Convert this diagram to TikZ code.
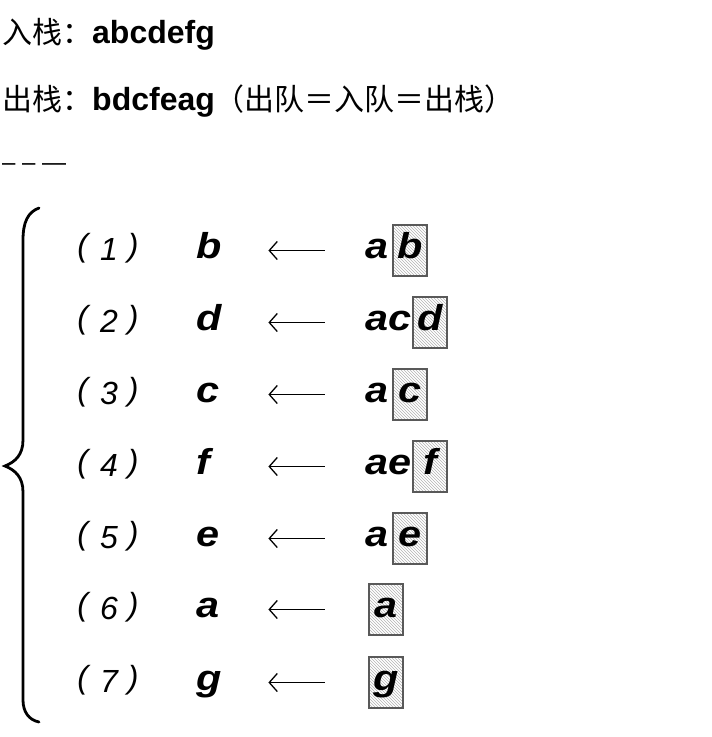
\documentclass[tikz,border=0pt]{standalone}
\usepackage{fontspec}
\setmainfont{Liberation Sans}
\newfontfamily\cjk{Noto Sans CJK SC}
\newfontfamily\letterfont[FakeStretch=1.15]{Liberation Sans}
\usepackage{tikz}
\usetikzlibrary{
    arrows.meta,
    positioning,
    patterns
}

\begin{document}
\begin{tikzpicture}[
    x=1pt, y=-1pt,
    letter/.style={
        anchor=base west,
        inner xsep=0pt,
        inner ysep=0pt,
        text height=25pt,
        text depth=10pt,
        font=\letterfont\bfseries\itshape\fontsize{36}{40}\selectfont
    },
    popped/.style={letter, text width=26pt, align=left},
    stacktop/.style={
        letter,
        draw=gray!70!black,
        line width=1.2pt,
        pattern=north west lines,
        pattern color=gray!60,
        inner xsep=3pt,
        inner ysep=8pt,
        minimum width=34pt,
        anchor=west
    },
    step label/.style={anchor=base, font=\itshape\fontsize{32}{36}\selectfont},
    arrow/.style={
        {Straight Barb[length=8pt, width=18pt]}-,
        line width=1.3pt,
        shorten <=46pt,
        shorten >=40pt
    }
]
\useasboundingbox (0,0) rectangle (712,737);

% Push and pop order
\node[anchor=base west, inner sep=0pt] (push) at (2, 43)
    {{\cjk\fontsize{30}{34}\selectfont 入栈：}{\fontsize{32}{36}\selectfont\bfseries abcdefg}};
\node[anchor=base west, inner sep=0pt] (pop) at (2, 110)
    {{\cjk\fontsize{30}{34}\selectfont 出栈：}{\fontsize{32}{36}\selectfont\bfseries bdcfeag}{\cjk\fontsize{30}{34}\selectfont （出队＝入队＝出栈）}};
\node[anchor=base west, inner sep=0pt, font=\fontsize{24}{28}\selectfont] (sep) at (2, 170) {– – —};

% Brace
\draw[line width=2.8pt, line cap=round]
    (39, 208) .. controls (28, 212) and (23, 222) .. (23, 240) -- (23, 440)
    .. controls (23, 455) and (15, 462) .. (5, 466)
    .. controls (15, 470) and (23, 477) .. (23, 492) -- (23, 700)
    .. controls (23, 712) and (29, 720) .. (39, 722);

% (1)
\node[step label] (n1) at (108, 256) {(\hspace{12pt}\raisebox{-4pt}{1}\hspace{10pt})};
\node[popped] (p1) at (196, 258) {b};
\node[letter] (r1) at (365, 258) {a};
\node[stacktop, right=4pt of r1] (t1) {b};
\draw[arrow] (p1.east) -- (r1.west);

% (2)
\node[step label] (n2) at (108, 328) {(\hspace{12pt}\raisebox{-4pt}{2}\hspace{10pt})};
\node[popped] (p2) at (196, 330) {d};
\node[letter] (r2) at (365, 330) {ac};
\node[stacktop, right=1pt of r2] (t2) {d};
\draw[arrow] (p2.east) -- (r2.west);

% (3)
\node[step label] (n3) at (108, 400) {(\hspace{12pt}\raisebox{-4pt}{3}\hspace{10pt})};
\node[popped] (p3) at (196, 402) {c};
\node[letter] (r3) at (365, 402) {a};
\node[stacktop, right=4pt of r3] (t3) {c};
\draw[arrow] (p3.east) -- (r3.west);

% (4)
\node[step label] (n4) at (108, 472) {(\hspace{12pt}\raisebox{-4pt}{4}\hspace{10pt})};
\node[popped] (p4) at (196, 474) {f};
\node[letter] (r4) at (365, 474) {ae};
\node[stacktop, right=1pt of r4] (t4) {f};
\draw[arrow] (p4.east) -- (r4.west);

% (5)
\node[step label] (n5) at (108, 544) {(\hspace{12pt}\raisebox{-4pt}{5}\hspace{10pt})};
\node[popped] (p5) at (196, 546) {e};
\node[letter] (r5) at (365, 546) {a};
\node[stacktop, right=4pt of r5] (t5) {e};
\draw[arrow] (p5.east) -- (r5.west);

% (6)
\node[step label] (n6) at (108, 615) {(\hspace{12pt}\raisebox{-4pt}{6}\hspace{10pt})};
\node[popped] (p6) at (196, 617) {a};
\node[letter] (r6) at (365, 617) {};
\node[stacktop, right=2pt of r6] (t6) {a};
\draw[arrow] (p6.east) -- (r6.west);

% (7)
\node[step label] (n7) at (108, 688) {(\hspace{12pt}\raisebox{-4pt}{7}\hspace{10pt})};
\node[popped] (p7) at (196, 690) {g};
\node[letter] (r7) at (365, 690) {};
\node[stacktop, right=2pt of r7] (t7) {g};
\draw[arrow] (p7.east) -- (r7.west);

\end{tikzpicture}
\end{document}
